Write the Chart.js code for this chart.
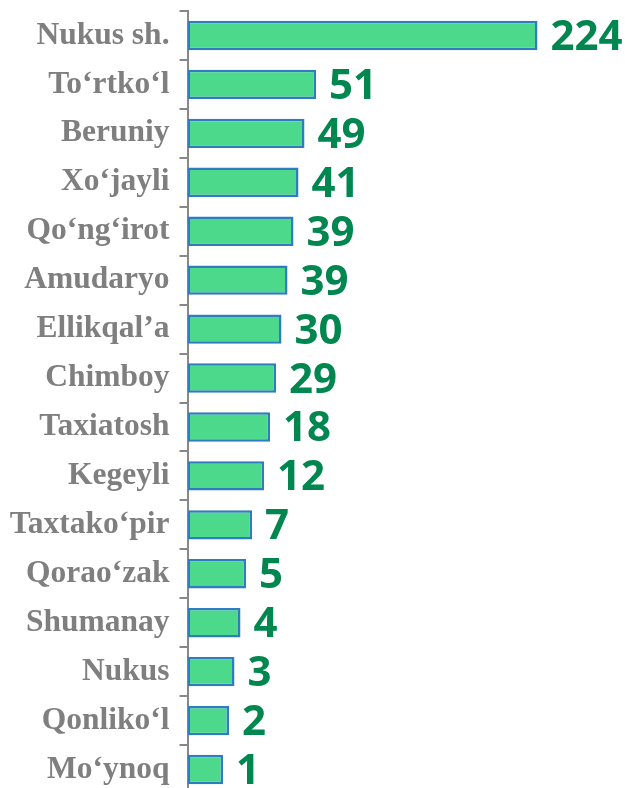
<!DOCTYPE html>
<html>
<head>
<meta charset="utf-8">
<script src="https://cdn.jsdelivr.net/npm/chart.js@4"></script>
<style>
html,body{margin:0;padding:0;background:#fff;overflow:hidden;}
#wrap{width:625px;height:800px;}
</style>
</head>
<body>
<div id="wrap"><canvas id="c" width="625" height="800"></canvas></div>
<script>
// Categories (top to bottom)
const categories = ["Nukus sh.","To\u2018rtko\u2018l","Beruniy","Xo\u2018jayli","Qo\u2018ng\u2018irot","Amudaryo","Ellikqal\u2019a","Chimboy","Taxiatosh","Kegeyli","Taxtako\u2018pir","Qorao\u2018zak","Shumanay","Nukus","Qonliko\u2018l","Mo\u2018ynoq"];
// Values shown as labels
const values = [224,51,49,41,39,39,30,29,18,12,7,5,4,3,2,1];
// Bar lengths as drawn in the picture (the original bars are not proportional to the values)
const barLengths = [350,128.5,117,111,106,100,94,88.5,82.5,76.5,64.5,58.5,53,47,41.5,35.5];

const valueLabelPlugin = {
  id: 'valueLabels',
  afterDatasetsDraw(chart) {
    const ctx = chart.ctx;
    const meta = chart.getDatasetMeta(0);
    ctx.save();
    ctx.font = 'bold 42px "Open Sans"';
    ctx.fillStyle = '#00874f';
    ctx.textAlign = 'left';
    ctx.textBaseline = 'middle';
    meta.data.forEach((bar, i) => {
      ctx.fillText(String(values[i]), bar.x + 13, bar.y + 2.5);
    });
    ctx.restore();
  }
};

new Chart(document.getElementById('c'), {
  type: 'bar',
  data: {
    labels: categories,
    datasets: [{
      data: barLengths,
      backgroundColor: '#4dd98c',
      borderColor: '#2e7dc0',
      borderWidth: 2.5,
      borderSkipped: false,
      categoryPercentage: 0.6,
      barPercentage: 1.0
    }]
  },
  options: {
    indexAxis: 'y',
    responsive: false,
    devicePixelRatio: 1,
    animation: false,
    layout: { padding: { top: 11, bottom: 6, left: 0, right: 0 } },
    plugins: { legend: { display: false }, tooltip: { enabled: false } },
    scales: {
      x: { display: false, min: 0, max: 437.5 },
      y: {
        offset: true,
        afterFit(scale) { scale.width = 187.5; scale.paddingTop = 0; scale.paddingBottom = 0; },
        grid: {
          offset: true,
          drawOnChartArea: false,
          drawTicks: true,
          tickLength: 8,
          color: '#888888',
          lineWidth: 2
        },
        border: { display: true, color: '#888888', width: 2 },
        ticks: {
          color: '#7f7f7f',
          padding: 10,
          font: { family: '"Liberation Serif", "Times New Roman", serif', weight: 'bold', size: 31.5 }
        }
      }
    }
  },
  plugins: [valueLabelPlugin]
});
</script>
</body>
</html>
